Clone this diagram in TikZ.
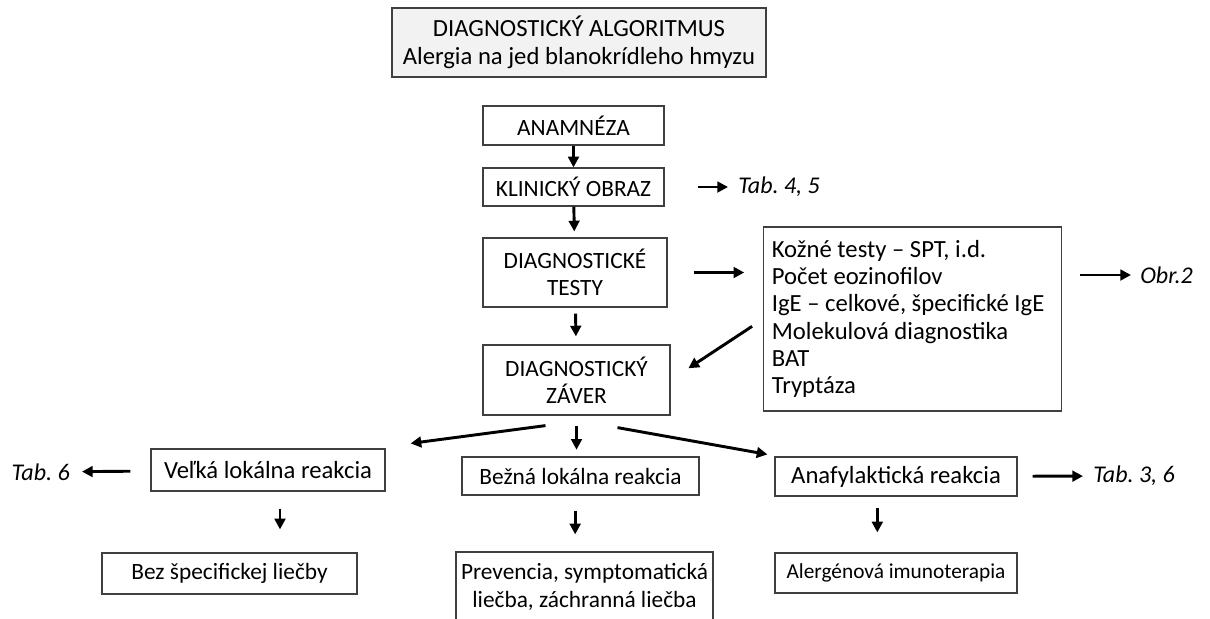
\documentclass[tikz,border=0pt]{standalone}
\usepackage{fontspec}
\setmainfont{Carlito}
\usetikzlibrary{arrows.meta}
\begin{document}
\frenchspacing
\begin{tikzpicture}[x=0.75pt,y=-0.75pt,
  box/.style={draw=black!75, line width=0.9pt, align=center, inner sep=2pt,
    font=\fontsize{17.5}{20.5}\selectfont},
  arr/.style={-{Triangle[length=8pt,width=8pt]}, line width=2.2pt},
  ref/.style={inner sep=0pt, font=\fontsize{18}{20.5}\selectfont\itshape}]
\useasboundingbox (0,0) rectangle (1210,618);
\clip (0,0) rectangle (1210,618);
% main column
\node[box, fill=black!5, minimum width=280.5pt, minimum height=51.75pt,
  font=\fontsize{18.5}{21}\selectfont] (title) at (579,42.5)
  {DIAGNOSTICKÝ ALGORITMUS\\Alergia na jed blanokrídleho hmyzu};
\node[box, minimum width=135.75pt, minimum height=29.25pt] (anam) at (573.5,125.5) {ANAMNÉZA};
\node[box, minimum width=135.75pt, minimum height=28.5pt] (klin) at (573.5,187) {KLINICKÝ OBRAZ};
\node[box, minimum width=138pt, minimum height=51.75pt] (testy) at (575,272.5) {DIAGNOSTICKÉ\\TESTY};
\node[box, minimum width=140.25pt, minimum height=52.5pt] (zaver) at (576.5,380) {DIAGNOSTICKÝ\\ZÁVER};
% list of tests
\node[box, align=flush left, inner sep=6pt, text width=211pt, minimum height=138pt,
  font=\fontsize{18.5}{20.5}\selectfont] (tests) at (912.5,319)
  {Kožné testy – SPT, i.d.\\Počet eozinofilov\\IgE – celkové, špecifické IgE\\Molekulová diagnostika\\BAT\\Tryptáza};
% reactions
\node[box, minimum width=175.5pt, minimum height=31.5pt, font=\fontsize{18.5}{21}\selectfont] (velka) at (268,470) {Veľká lokálna reakcia};
\node[box, minimum width=177.75pt, minimum height=28.5pt] (bezna) at (580.5,476) {Bežná lokálna reakcia};
\node[box, minimum width=181.5pt, minimum height=29.25pt, font=\fontsize{18.5}{21}\selectfont] (anaf) at (896,476.5) {Anafylaktická reakcia};
% treatment
\node[box, minimum width=191.25pt, minimum height=30.75pt] (bez) at (229.5,573.5) {Bez špecifickej liečby};
\node[box, minimum width=192.75pt, minimum height=52.5pt] (prev) at (584.5,587) {Prevencia, symptomatická\\liečba, záchranná liečba};
\node[box, minimum width=181.5pt, minimum height=30pt, font=\fontsize{16}{19}\selectfont] (alerg) at (896,573) {Alergénová imunoterapia};
% references
\node[ref, anchor=west] (tab45) at (738,187) {Tab. 4, 5};
\node[ref, anchor=west] (obr2) at (1140,275) {Obr.2};
\node[ref, anchor=east] (tab6) at (70,472) {Tab. 6};
\node[ref, anchor=west] (tab36) at (1093,476) {Tab. 3, 6};
% arrows
\draw[arr] (anam) -- (klin);
\draw[arr, shorten >=4.5pt] (klin) -- (testy);
\draw[arr, shorten <=4.5pt, shorten >=6pt] (testy) -- (zaver);
\draw[arr, shorten <=24.75pt, shorten >=7.5pt] (klin) -- (tab45);
\draw[arr, shorten <=19.5pt, shorten >=14.25pt] (testy.east) -- (testy.east -| tests.west);
\draw[arr, shorten <=13.5pt, shorten >=6.75pt] (tests.east |- obr2) -- (obr2);
\draw[arr, shorten <=10pt, shorten >=16pt] (tests.west) -- (zaver.east);
\draw[arr] ([shift={(-31,10)}]zaver.south) -- ([shift={(25,-5)}]velka.north east);
\draw[arr, shorten <=8pt, shorten >=5pt] (zaver.south) -- (zaver.south |- bezna.north);
\draw[arr] ([shift={(41,12)}]zaver.south) -- ([shift={(-7,-2)}]anaf.north west);
\draw[arr, shorten <=15pt, shorten >=9pt] (velka) -- (tab6);
\draw[arr, shorten <=11.25pt, shorten >=7.5pt] (anaf) -- (tab36);
\draw[arr, shorten <=12.75pt, shorten >=17.25pt] ([xshift=9pt]velka.south) -- ([xshift=9pt]velka.south |- bez.north);
\draw[arr, shorten <=11.25pt, shorten >=12.75pt] ([xshift=-4pt]bezna.south) -- ([xshift=-4pt]bezna.south |- prev.north);
\draw[arr, shorten <=8.25pt, shorten >=15pt] ([xshift=-14pt]anaf.south) -- ([xshift=-14pt]anaf.south |- alerg.north);
\end{tikzpicture}
\end{document}
